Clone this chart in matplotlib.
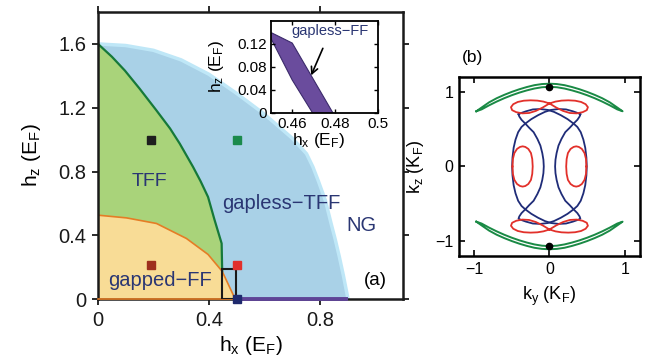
import matplotlib.pyplot as plt
import numpy as np

plt.rcParams['font.family'] = ['Liberation Sans', 'DejaVu Sans']
plt.rcParams['mathtext.fontset'] = 'custom'
plt.rcParams['mathtext.rm'] = 'Liberation Sans'
plt.rcParams['mathtext.it'] = 'Liberation Sans'
plt.rcParams['axes.unicode_minus'] = True

# ---- (a) phase diagram, boundaries ----
ng_hx = [0, 0.1, 0.2, 0.3, 0.4, 0.5, 0.6, 0.7, 0.752, 0.775, 0.795, 0.82, 0.84, 0.855, 0.87, 0.885, 0.902]
ng_hz = [1.6, 1.59, 1.56, 1.5, 1.41, 1.29, 1.16, 1.01, 0.912, 0.83, 0.74, 0.62, 0.48, 0.38, 0.27, 0.15, 0]

tff_hx = [0, 0.05, 0.097, 0.15, 0.211, 0.26, 0.295, 0.343, 0.37, 0.397, 0.42, 0.446, 0.448]
tff_hz = [1.6, 1.52, 1.433, 1.32, 1.183, 1.07, 0.975, 0.829, 0.74, 0.641, 0.5, 0.35, 0.175]

ff_hx = [0, 0.103, 0.211, 0.319, 0.397, 0.448, 0.488, 0.5]
ff_hz = [0.527, 0.51, 0.475, 0.381, 0.281, 0.175, 0.027, 0]

gfl_hx = [0.5, 0.902]          # gapless-FF line on hz = 0
gfl_hz = [0, 0]

pts_hx = [0.19, 0.5, 0.19, 0.5, 0.5]
pts_hz = [1.0, 1.0, 0.215, 0.215, 0.0]
pts_col = ['#1e1e1e', '#1b8a4c', '#9e2f1e', '#e2302c', '#1f2a6e']

# inset: gapless-FF sliver
ins_hx = [0.4502, 0.46, 0.479, 0.4695, 0.46, 0.4502]
ins_hz = [0.139, 0.121, 0.0, 0.0, 0.057, 0.128]

# ---- (b) Fermi surfaces, upper halves / one side ----
g_ky_out = [-0.97, -0.9, -0.8, -0.7, -0.6, -0.5, -0.4, -0.3, -0.2, -0.1, 0,
            0.1, 0.2, 0.3, 0.4, 0.5, 0.6, 0.7, 0.8, 0.9, 0.97]
g_kz_out = [0.74, 0.79, 0.86, 0.915, 0.96, 1.0, 1.035, 1.065, 1.09, 1.105, 1.11,
            1.105, 1.09, 1.065, 1.035, 1.0, 0.96, 0.915, 0.86, 0.79, 0.74]
g_kz_in = [0.74, 0.765, 0.82, 0.87, 0.915, 0.955, 0.99, 1.02, 1.045, 1.062, 1.068,
           1.062, 1.045, 1.02, 0.99, 0.955, 0.915, 0.87, 0.82, 0.765, 0.74]

# blue crescent with tips on the right (other one is its mirror in ky), upper half
b_ky_out = [0.41, 0.38, 0.31, 0.22, 0.12, 0.02, -0.06, -0.15, -0.24, -0.32,
            -0.37, -0.415, -0.45, -0.475, -0.49, -0.495]
b_kz_out = [0.70, 0.715, 0.74, 0.765, 0.77, 0.758, 0.732, 0.688, 0.635, 0.575,
            0.53, 0.46, 0.36, 0.25, 0.12, 0.0]
b_ky_in = [0.41, 0.40, 0.37, 0.32, 0.27, 0.21, 0.16, 0.12, 0.095, 0.08, 0.075]
b_kz_in = [0.70, 0.67, 0.625, 0.575, 0.52, 0.46, 0.37, 0.28, 0.18, 0.09, 0.0]

# red figure-eight near kz = 0.8 and red ovals at kz = 0
r8_ky = [0.0, 0.08, 0.16, 0.25, 0.34, 0.42, 0.48, 0.51, 0.495, 0.44, 0.36, 0.27, 0.18, 0.09, 0.0,
         -0.08, -0.16, -0.25, -0.34, -0.42, -0.48, -0.51, -0.495, -0.44, -0.36, -0.27, -0.18, -0.09, 0.0]
r8_kz = [0.845, 0.87, 0.883, 0.887, 0.882, 0.865, 0.835, 0.795, 0.755, 0.728, 0.712, 0.717, 0.745, 0.79, 0.845,
         0.87, 0.883, 0.887, 0.882, 0.865, 0.835, 0.795, 0.755, 0.728, 0.712, 0.717, 0.745, 0.79, 0.845]
ro_ky = [0.49, 0.485, 0.465, 0.43, 0.39, 0.355, 0.32, 0.28, 0.245, 0.228, 0.222,
         0.228, 0.245, 0.28, 0.32, 0.355, 0.39, 0.43, 0.465, 0.485, 0.49]
ro_kz = [0.0, 0.1, 0.18, 0.235, 0.262, 0.27, 0.262, 0.235, 0.18, 0.1, 0.0,
         -0.1, -0.18, -0.235, -0.262, -0.27, -0.262, -0.235, -0.18, -0.1, 0.0]

dots_ky = [0, 0]
dots_kz = [1.06, -1.06]

navy = '#2a3673'


def lab(v, c, unit='E'):
    return r'$\mathrm{%s}_\mathrm{%s}$ (%s$_\mathrm{F}$)' % (v, c, unit)


fig = plt.figure(figsize=(6.51, 3.58), dpi=100)

# ================= panel (a) =================
ax = fig.add_axes([0.1505, 0.164, 0.4685, 0.8025])
ax.fill(ng_hx + [0], ng_hz + [0], color='#a9d1e7', lw=0, zorder=1)
ax.plot(ng_hx, ng_hz, color='#bfe7f7', lw=2.5, zorder=1.5, solid_capstyle='butt')
ax.fill(tff_hx + ff_hx[:6][::-1], tff_hz + ff_hz[:6][::-1], color='#a9d37a', lw=0, zorder=2)
ax.fill(ff_hx + [0], ff_hz + [0], color='#f8dc96', lw=0, zorder=2)
ax.plot(tff_hx, tff_hz, color='#16793a', lw=1.6, zorder=3)
ax.plot(ff_hx, ff_hz, color='#e57d25', lw=1.2, zorder=3)
ax.plot([0, 0.5], [0.004, 0.004], color='#e57d25', lw=1.2, zorder=4, clip_on=False)
ax.plot(gfl_hx, gfl_hz, color='#5e4496', lw=2.8, zorder=4, clip_on=False, solid_capstyle='butt')
for x, y, c in zip(pts_hx, pts_hz, pts_col):
    ax.plot(x, y, 's', ms=5.5, color=c, mec=c, zorder=6, clip_on=False)
ax.add_patch(plt.Rectangle((0.446, 0), 0.051, 0.1875, fill=False, ec='#1a1a1a', lw=1.5, zorder=5))

ax.text(0.187, 0.735, 'TFF', color=navy, fontsize=14, ha='center', va='center', zorder=7)
ax.text(0.66, 0.6, 'gapless\u2212TFF', color=navy, fontsize=14.5, ha='center', va='center', zorder=7)
ax.text(0.95, 0.464, 'NG', color=navy, fontsize=14.5, ha='center', va='center', zorder=7)
ax.text(0.223, 0.12, 'gapped\u2212FF', color=navy, fontsize=14.5, ha='center', va='center', zorder=7)
ax.text(1.0, 0.12, '(a)', color='black', fontsize=13.5, ha='center', va='center', zorder=7)

ax.set_xlim(0, 1.1)
ax.set_ylim(0, 1.8)
ax.set_xticks([0, 0.4, 0.8])
ax.set_xticklabels(['0', '0.4', '0.8'])
ax.set_yticks([0, 0.4, 0.8, 1.2, 1.6])
ax.set_yticklabels(['0', '0.4', '0.8', '1.2', '1.6'])
ax.tick_params(direction='out', length=4.5, width=1.3, top=True, right=True,
               labelsize=14.5, pad=4, colors='#1a1a1a')
for s in ax.spines.values():
    s.set_linewidth(1.8)
    s.set_color('#1a1a1a')
    s.set_zorder(3.5)
ax.set_xlabel(lab('h', 'x'), fontsize=15)
ax.set_ylabel(lab('h', 'z'), fontsize=15)
ax.xaxis.set_label_coords(0.5, -0.12)
ax.yaxis.set_label_coords(-0.18, 0.5)

# ---- inset ----
axi = fig.add_axes([0.416, 0.6844, 0.1646, 0.2583])
axi.fill(ins_hx, ins_hz, color='#6a4c9d', ec='#3b2a6b', lw=0.8)
axi.annotate('gapless\u2212FF', xy=(0.4688, 0.065), xytext=(0.4778, 0.142),
             color=navy, fontsize=10.5, ha='center', va='center',
             arrowprops=dict(arrowstyle='->', color='black', lw=1.2, mutation_scale=12,
                             shrinkA=6, shrinkB=0))
axi.set_xlim(0.45, 0.5)
axi.set_ylim(0, 0.16)
axi.set_xticks([0.46, 0.48, 0.5])
axi.set_xticklabels(['0.46', '0.48', '0.5'])
axi.set_yticks([0, 0.04, 0.08, 0.12])
axi.set_yticklabels(['0', '0.04', '0.08', '0.12'])
axi.tick_params(direction='in', length=3, width=1, top=True, right=True, labelsize=11, pad=3)
for s in axi.spines.values():
    s.set_linewidth(1.3)
axi.set_xlabel(lab('h', 'x'), fontsize=12.5)
axi.set_ylabel(lab('h', 'z'), fontsize=12.5)
axi.xaxis.set_label_coords(0.45, -0.2)
axi.yaxis.set_label_coords(-0.42, 0.5)

# ================= panel (b) =================
bx = fig.add_axes([0.705, 0.285, 0.278, 0.5])
gky = np.array(g_ky_out)
for sgn in (1, -1):
    bx.plot(np.r_[gky, gky[::-1]], sgn * np.r_[g_kz_out, g_kz_in[::-1]], color='#1a8a45', lw=1.4)

bky = np.r_[b_ky_out, b_ky_out[::-1], b_ky_in, b_ky_in[::-1]]
bkz = np.r_[b_kz_out, -np.array(b_kz_out[::-1]), -np.array(b_kz_in), b_kz_in[::-1]]
for sgn in (1, -1):
    bx.plot(sgn * bky, bkz, color='#1f2c78', lw=1.3)

for sgn in (1, -1):
    bx.plot(r8_ky, sgn * np.array(r8_kz), color='#e2302a', lw=1.3)
    bx.plot(sgn * np.array(ro_ky), ro_kz, color='#e2302a', lw=1.3)

bx.plot(dots_ky, dots_kz, 'o', color='black', ms=4.5)

bx.set_xlim(-1.2, 1.2)
bx.set_ylim(-1.2, 1.2)
bx.set_xticks([-1, 0, 1])
bx.set_xticklabels(['\u22121', '0', '1'])
bx.set_yticks([-1, 0, 1])
bx.set_yticklabels(['\u22121', '0', '1'])
bx.tick_params(direction='in', length=4, width=1.2, top=True, right=True, labelsize=11.5, pad=4)
for s in bx.spines.values():
    s.set_linewidth(1.8)
bx.set_xlabel(lab('k', 'y', 'K'), fontsize=13)
bx.set_ylabel(lab('k', 'z', 'K'), fontsize=13)
bx.xaxis.set_label_coords(0.5, -0.16)
bx.yaxis.set_label_coords(-0.18, 0.5)
bx.text(0.015, 1.11, '(b)', transform=bx.transAxes, fontsize=12.5, ha='left', va='center')

fig.savefig('out.png', dpi=100)
